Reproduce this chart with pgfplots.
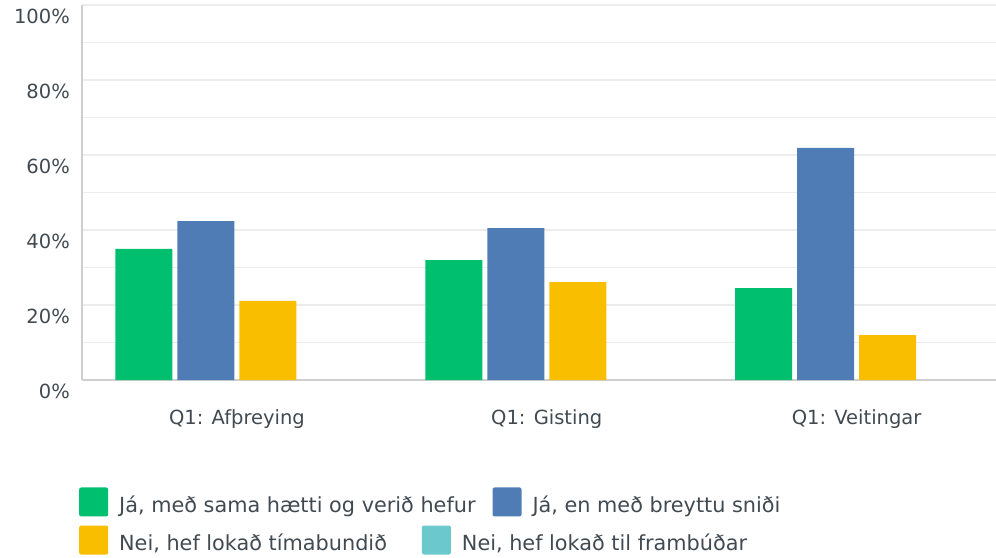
\documentclass[border=0pt]{standalone}
\usepackage{pgfplots}
\pgfplotsset{compat=1.18}
\usepackage{fontspec}
\setmainfont{DejaVu Sans}
\definecolor{cgreen}{HTML}{00BF6F}
\definecolor{cblue}{HTML}{507CB6}
\definecolor{cyellow}{HTML}{F9BE00}
\definecolor{cteal}{HTML}{6BC8CD}
\definecolor{ctext}{HTML}{414A51}
\definecolor{cgrid}{HTML}{ECECEC}
\definecolor{caxis}{HTML}{CFCFCF}
\pgfplotsset{
  sqlegend/.style={legend image code/.code={\fill[##1, rounded corners=2bp] (0bp,-12bp) rectangle (29bp,17bp);}},
}
\begin{document}
\begin{tikzpicture}
\useasboundingbox (-82bp,-178bp) rectangle (914bp,380bp);
\begin{axis}[
  at={(0,0)}, anchor=south west,
  width=914bp, height=375bp, scale only axis,
  xmin=-0.5, xmax=2.45, ymin=0, ymax=100,
  axis x line*=bottom, axis y line*=left,
  x axis line style={-, draw=caxis, line width=2bp},
  y axis line style={-, draw=caxis, line width=1.3bp},
  xtick={0,1,2},
  xticklabels={Q1: Afþreying, Q1: Gisting, Q1: Veitingar},
  ytick={0,20,40,60,80,100},
  yticklabels={0\%,20\%,40\%,60\%,80\%,100\%},
  minor ytick={10,30,50,70,90},
  ymajorgrids, yminorgrids,
  major grid style={draw=cgrid, line width=1.5bp},
  minor grid style={draw=cgrid, line width=1.5bp},
  major tick length=0pt, minor tick length=0pt,
  tick style={draw=none},
  yticklabel style={font=\fontsize{19.5bp}{23bp}\selectfont, text=ctext, anchor=east, inner sep=0pt, xshift=-12bp, yshift=-11bp},
  xticklabel style={font=\fontsize{19.5bp}{23bp}\selectfont, text=ctext, anchor=base, inner sep=0pt, yshift=-44bp},
  sqlegend,
  legend columns=2,
  legend style={at={(rel axis cs:-0.0033,-0.3253)}, anchor=west, draw=none, fill=none, inner sep=0pt,
    font=\fontsize{20.8bp}{24bp}\selectfont, text=ctext,
    nodes={inner sep=0pt},
    /tikz/every odd column/.style={column sep=11bp},
    /tikz/every even column/.style={column sep=17bp}},
]
\addplot[ybar, bar width=57bp, bar shift=-93bp, fill=cgreen, draw=none] coordinates {(0,35.0) (1,32.0) (2,24.5)};
\addlegendentry{Já, með sama hætti og verið hefur}
\addplot[ybar, bar width=57bp, bar shift=-31bp, fill=cblue, draw=none] coordinates {(0,42.4) (1,40.5) (2,61.9)};
\addlegendentry{Já, en með breyttu sniði}
\addplot[ybar, bar width=57bp, bar shift=31bp, fill=cyellow, draw=none, forget plot] coordinates {(0,21.1) (1,26.1) (2,12.0)};
\end{axis}
\begin{axis}[
  at={(0,0)}, anchor=south west,
  width=914bp, height=375bp, scale only axis,
  xmin=-0.5, xmax=2.45, ymin=0, ymax=100,
  hide axis,
  sqlegend,
  legend columns=2,
  legend style={at={(rel axis cs:-0.0033,-0.4267)}, anchor=west, draw=none, fill=none, inner sep=0pt,
    font=\fontsize{20.8bp}{24bp}\selectfont, text=ctext,
    nodes={inner sep=0pt},
    /tikz/every odd column/.style={column sep=11bp},
    /tikz/every even column/.style={column sep=35bp}},
]
\addlegendimage{fill=cyellow, draw=none}
\addlegendentry{Nei, hef lokað tímabundið}
\addlegendimage{fill=cteal, draw=none}
\addlegendentry{Nei, hef lokað til frambúðar}
\end{axis}
\end{tikzpicture}
\end{document}
